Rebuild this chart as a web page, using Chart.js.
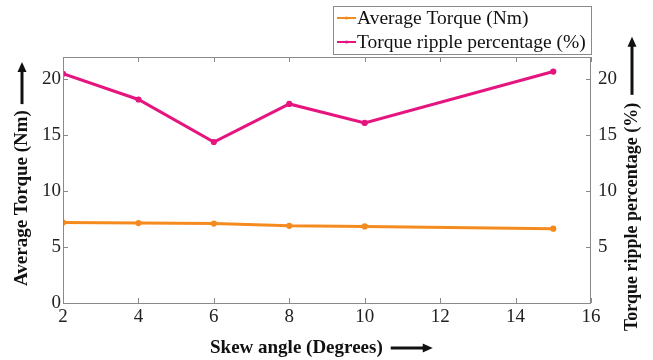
<!DOCTYPE html>
<html>
<head>
<meta charset="utf-8">
<script src="https://cdn.jsdelivr.net/npm/chart.js@4"></script>
<style>
  html, body { margin: 0; padding: 0; background: #fff; }
  #wrap { width: 653px; height: 360px; }
</style>
</head>
<body>
<div id="wrap"><canvas id="chart" width="653" height="360"></canvas></div>
<script>
// Skew angle (degrees)
const skewAngles = [2, 4, 6, 8, 10, 15];
// Average torque (Nm)
const avgTorque = [7.2, 7.15, 7.1, 6.9, 6.85, 6.65];
// Torque ripple percentage (%)
const ripplePct = [20.5, 18.2, 14.4, 17.8, 16.1, 20.7];

const xTicks = [2, 4, 6, 8, 10, 12, 14, 16];
const yTicks = [0, 5, 10, 15, 20];

const ORANGE = '#f58b1f';
const PINK = '#e5147e';
const FRAME = '#8a8a8a';
const SERIF = '"Liberation Serif", "Times New Roman", serif';

// frame + inward tick marks, matlab style
const framePlugin = {
    id: 'frame',
    afterDraw(chart) {
        const { ctx, chartArea: a, scales } = chart;
        ctx.save();
        ctx.strokeStyle = FRAME;
        ctx.lineWidth = 1;
        ctx.strokeRect(a.left + 0.5, a.top + 0.5, a.right - a.left - 1, a.bottom - a.top);
        ctx.beginPath();
        xTicks.forEach(v => {
            const px = Math.round(scales.x.getPixelForValue(v)) + 0.5;
            ctx.moveTo(px, a.bottom); ctx.lineTo(px, a.bottom - 5);
            ctx.moveTo(px, a.top); ctx.lineTo(px, a.top + 5);
        });
        yTicks.forEach(v => {
            const py = Math.round(scales.y.getPixelForValue(v)) + 0.5;
            ctx.moveTo(a.left, py); ctx.lineTo(a.left + 5, py);
            ctx.moveTo(a.right, py); ctx.lineTo(a.right - 5, py);
        });
        ctx.stroke();
        ctx.restore();
    }
};

function arrow(ctx, x1, y1, x2, y2) {
    const ang = Math.atan2(y2 - y1, x2 - x1);
    const head = 10;
    ctx.beginPath();
    ctx.lineWidth = 3;
    ctx.moveTo(x1, y1);
    ctx.lineTo(x2 - Math.cos(ang) * head * 0.8, y2 - Math.sin(ang) * head * 0.8);
    ctx.stroke();
    ctx.beginPath();
    ctx.moveTo(x2, y2);
    ctx.lineTo(x2 - Math.cos(ang) * head + Math.sin(ang) * 4.5, y2 - Math.sin(ang) * head - Math.cos(ang) * 4.5);
    ctx.lineTo(x2 - Math.cos(ang) * head - Math.sin(ang) * 4.5, y2 - Math.sin(ang) * head + Math.cos(ang) * 4.5);
    ctx.closePath();
    ctx.fill();
}

// axis titles with the arrows, plus the boxed legend
const titlesPlugin = {
    id: 'titles',
    afterDraw(chart) {
        const ctx = chart.ctx;
        ctx.save();
        ctx.fillStyle = '#111';
        ctx.strokeStyle = '#111';
        ctx.font = 'bold 19px ' + SERIF;
        ctx.textBaseline = 'middle';
        ctx.textAlign = 'left';

        // bottom
        const xt = 'Skew angle (Degrees)';
        ctx.fillText(xt, 210, 348);
        const xw = ctx.measureText(xt).width;
        arrow(ctx, 210 + xw + 8, 348, 210 + xw + 50, 348);

        // left
        const lt = 'Average Torque (Nm)';
        const lw = ctx.measureText(lt).width;
        ctx.save();
        ctx.translate(22, 286);
        ctx.rotate(-Math.PI / 2);
        ctx.fillText(lt, 0, 0);
        arrow(ctx, lw + 6, 0, lw + 48, 0);
        ctx.restore();

        // right
        ctx.font = 'bold 18px ' + SERIF;
        const rt = 'Torque ripple percentage (%)';
        const rw = ctx.measureText(rt).width;
        ctx.save();
        ctx.translate(632, 331);
        ctx.rotate(-Math.PI / 2);
        ctx.fillText(rt, 0, 0);
        arrow(ctx, rw + 8, 0, rw + 66, 0);
        ctx.restore();

        // legend
        ctx.strokeStyle = FRAME;
        ctx.lineWidth = 1;
        ctx.strokeRect(333.5, 6.5, 258, 48);
        ctx.font = '19.5px ' + SERIF;
        chart.data.datasets.forEach((ds, i) => {
            const y = 18 + i * 24;
            ctx.strokeStyle = ds.borderColor;
            ctx.fillStyle = ds.borderColor;
            ctx.lineWidth = 2;
            ctx.beginPath();
            ctx.moveTo(337, y); ctx.lineTo(356, y);
            ctx.stroke();
            ctx.beginPath();
            ctx.arc(346.5, y, 1.6, 0, Math.PI * 2);
            ctx.fill();
            ctx.fillStyle = '#111';
            ctx.fillText(ds.label, 357, y + 1);
        });
        ctx.restore();
    }
};

new Chart(document.getElementById('chart'), {
    type: 'line',
    data: {
        datasets: [{
            label: 'Average Torque (Nm)',
            data: skewAngles.map((x, i) => ({ x, y: avgTorque[i] })),
            borderColor: ORANGE,
            backgroundColor: ORANGE,
            borderWidth: 3,
            pointRadius: 1.6,
            yAxisID: 'y'
        }, {
            label: 'Torque ripple percentage (%)',
            data: skewAngles.map((x, i) => ({ x, y: ripplePct[i] })),
            borderColor: PINK,
            backgroundColor: PINK,
            borderWidth: 3,
            pointRadius: 1.6,
            yAxisID: 'y2'
        }]
    },
    options: {
        responsive: false,
        animation: false,
        layout: { padding: { top: 57, left: 0, right: 0, bottom: 0 } },
        plugins: { legend: { display: false }, tooltip: { enabled: false } },
        scales: {
            x: {
                type: 'linear',
                min: 2, max: 16,
                afterFit(s) { s.height = 57; },
                afterBuildTicks(s) { s.ticks = xTicks.map(v => ({ value: v })); },
                grid: { display: false, drawTicks: false },
                border: { display: false },
                ticks: { color: '#222', padding: 3, font: { family: SERIF, size: 19 } }
            },
            y: {
                position: 'left',
                min: 0, max: 22,
                afterFit(s) { s.width = 63; },
                afterBuildTicks(s) { s.ticks = yTicks.map(v => ({ value: v })); },
                grid: { display: false, drawTicks: false },
                border: { display: false },
                ticks: { color: '#222', padding: 2, font: { family: SERIF, size: 19 } }
            },
            y2: {
                position: 'right',
                min: 0, max: 22,
                afterFit(s) { s.width = 62; },
                afterBuildTicks(s) { s.ticks = yTicks.map(v => ({ value: v })); },
                grid: { display: false, drawTicks: false },
                border: { display: false },
                ticks: {
                    color: '#222', padding: 7, font: { family: SERIF, size: 19 },
                    callback: v => (v === 0 ? '' : v)
                }
            }
        }
    },
    plugins: [framePlugin, titlesPlugin]
});
</script>
</body>
</html>
